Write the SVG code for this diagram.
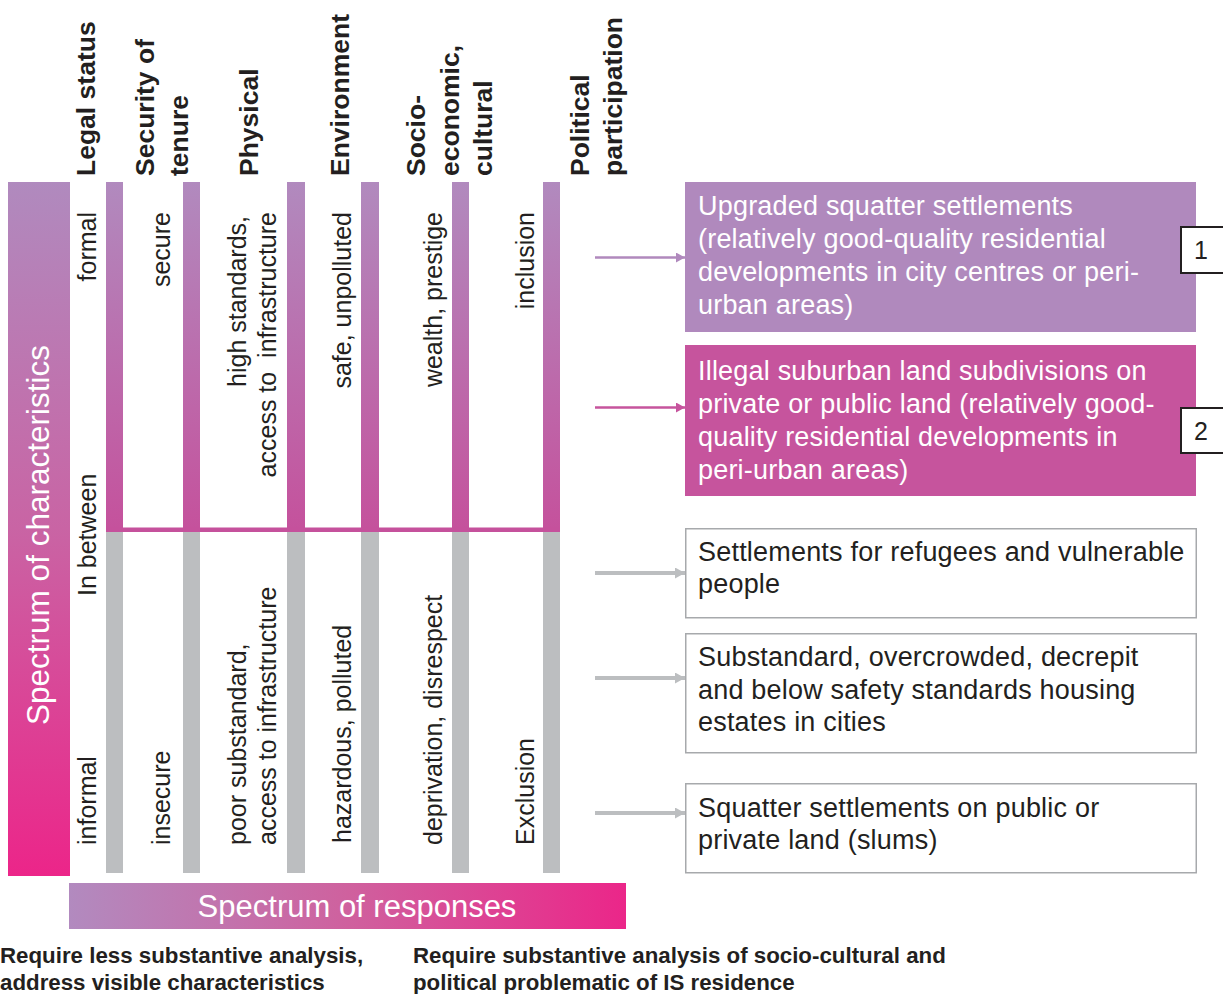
<svg xmlns="http://www.w3.org/2000/svg" width="1223" height="994" viewBox="0 0 1223 994">
<defs>
<linearGradient id="gLeft" x1="0" y1="182" x2="0" y2="876" gradientUnits="userSpaceOnUse">
<stop offset="0" stop-color="#b08abe"/>
<stop offset="0.5" stop-color="#c964a4"/>
<stop offset="1" stop-color="#ec2589"/>
</linearGradient>
<linearGradient id="gBar" x1="0" y1="182" x2="0" y2="532" gradientUnits="userSpaceOnUse">
<stop offset="0" stop-color="#b18abe"/>
<stop offset="1" stop-color="#c5519c"/>
</linearGradient>
<linearGradient id="gBottom" x1="69" y1="0" x2="626" y2="0" gradientUnits="userSpaceOnUse">
<stop offset="0" stop-color="#b28abf"/>
<stop offset="0.5" stop-color="#cf619e"/>
<stop offset="1" stop-color="#eb2689"/>
</linearGradient>
<marker id="mPurple" viewBox="0 0 9 10" refX="9" refY="5" markerWidth="9" markerHeight="10" markerUnits="userSpaceOnUse" orient="auto"><path d="M0,0 L9,5 L0,10 z" fill="#b089bd"/></marker>
<marker id="mMagenta" viewBox="0 0 9 10" refX="9" refY="5" markerWidth="9" markerHeight="10" markerUnits="userSpaceOnUse" orient="auto"><path d="M0,0 L9,5 L0,10 z" fill="#c6549d"/></marker>
<marker id="mGrey" viewBox="0 0 10 11" refX="10" refY="5.5" markerWidth="10" markerHeight="11" markerUnits="userSpaceOnUse" orient="auto"><path d="M0,0 L10,5.5 L0,11 z" fill="#bcbec0"/></marker>
<style>
.hdr{font-family:"Liberation Sans",Arial,sans-serif;font-weight:bold;font-size:26.5px;fill:#231f20}
.col{font-family:"Liberation Sans",Arial,sans-serif;font-size:25px;fill:#231f20}
.box{font-family:"Liberation Sans",Arial,sans-serif;font-size:27px;letter-spacing:0.2px}
.wt{fill:#ffffff}
.dk{fill:#231f20}
.num{font-family:"Liberation Sans",Arial,sans-serif;font-size:25px;fill:#231f20;text-anchor:middle}
.foot{font-family:"Liberation Sans",Arial,sans-serif;font-weight:bold;font-size:22.3px;fill:#231f20}
.pbar{fill:url(#gBar)}
.gbar{fill:#bcbec0}
.gbox{fill:#ffffff;stroke:#a7a9ac;stroke-width:1.5}
.nbox{fill:#ffffff;stroke:#231f20;stroke-width:2}
</style>
</defs>
<rect width="1223" height="994" fill="#ffffff"/>

<g id="headers">
<text class="hdr" transform="translate(95,176) rotate(-90)">Legal status</text>
<text class="hdr" transform="translate(154,176) rotate(-90)">Security of</text>
<text class="hdr" transform="translate(188,176) rotate(-90)">tenure</text>
<text class="hdr" transform="translate(258,176) rotate(-90)">Physical</text>
<text class="hdr" transform="translate(349,176) rotate(-90)">Environment</text>
<text class="hdr" transform="translate(425,176) rotate(-90)">Socio-</text>
<text class="hdr" transform="translate(459,176) rotate(-90)">economic,</text>
<text class="hdr" transform="translate(492,176) rotate(-90)">cultural</text>
<text class="hdr" transform="translate(589,176) rotate(-90)">Political</text>
<text class="hdr" transform="translate(622,176) rotate(-90)">participation</text>
</g>

<g id="spectrum-characteristics">
<rect x="8" y="182" width="62" height="694" fill="url(#gLeft)"/>
<text transform="translate(49,535) rotate(-90)" text-anchor="middle" font-family="Liberation Sans, Arial, sans-serif" font-size="31.5" fill="#ffffff">Spectrum of characteristics</text>
</g>

<g id="columns">
<rect class="pbar" x="106" y="182" width="17" height="350"/>
<rect class="pbar" x="183" y="182" width="17" height="350"/>
<rect class="pbar" x="287" y="182" width="18" height="350"/>
<rect class="pbar" x="361" y="182" width="18" height="350"/>
<rect class="pbar" x="452" y="182" width="17" height="350"/>
<rect class="pbar" x="543" y="182" width="17" height="350"/>
<rect x="106" y="527.5" width="454" height="4.5" fill="#c5519c"/>
<rect class="gbar" x="106" y="532" width="17" height="341"/>
<rect class="gbar" x="183" y="532" width="17" height="341"/>
<rect class="gbar" x="287" y="532" width="18" height="341"/>
<rect class="gbar" x="361" y="532" width="18" height="341"/>
<rect class="gbar" x="452" y="532" width="17" height="341"/>
<rect class="gbar" x="543" y="532" width="17" height="341"/>
</g>

<g id="column-labels-top">
<text class="col" text-anchor="end" transform="translate(96,212) rotate(-90)">formal</text>
<text class="col" text-anchor="end" transform="translate(170,212) rotate(-90)">secure</text>
<text class="col" text-anchor="end" transform="translate(246,216) rotate(-90)">high standards,</text>
<text class="col" text-anchor="end" transform="translate(276,212) rotate(-90)" xml:space="preserve">access to  infrastructure</text>
<text class="col" text-anchor="end" transform="translate(351,212) rotate(-90)">safe, unpolluted</text>
<text class="col" text-anchor="end" transform="translate(442,212) rotate(-90)">wealth, prestige</text>
<text class="col" text-anchor="end" transform="translate(534,212) rotate(-90)">inclusion</text>
</g>

<g id="column-labels-bottom">
<text class="col" transform="translate(96,596) rotate(-90)">In between</text>
<text class="col" transform="translate(96,845) rotate(-90)">informal</text>
<text class="col" transform="translate(170,845) rotate(-90)">insecure</text>
<text class="col" transform="translate(246,845) rotate(-90)">poor substandard,</text>
<text class="col" transform="translate(276,845) rotate(-90)">access to infrastructure</text>
<text class="col" transform="translate(351,843) rotate(-90)">hazardous, polluted</text>
<text class="col" transform="translate(442,845) rotate(-90)">deprivation, disrespect</text>
<text class="col" transform="translate(534,845) rotate(-90)">Exclusion</text>
</g>

<g id="connectors">
<line x1="595" y1="257.5" x2="685" y2="257.5" stroke="#b089bd" stroke-width="2.5" marker-end="url(#mPurple)"/>
<line x1="595" y1="407.5" x2="685" y2="407.5" stroke="#c6549d" stroke-width="2.5" marker-end="url(#mMagenta)"/>
<line x1="595" y1="573" x2="685" y2="573" stroke="#bcbec0" stroke-width="4" marker-end="url(#mGrey)"/>
<line x1="595" y1="678" x2="685" y2="678" stroke="#bcbec0" stroke-width="4" marker-end="url(#mGrey)"/>
<line x1="595" y1="813" x2="685" y2="813" stroke="#bcbec0" stroke-width="4" marker-end="url(#mGrey)"/>
</g>

<g id="box1">
<rect x="685" y="182" width="511" height="150" fill="#b089bd"/>
<text class="box wt" x="698" y="215">Upgraded squatter settlements</text>
<text class="box wt" x="698" y="248">(relatively good-quality residential</text>
<text class="box wt" x="698" y="281">developments in city centres or peri-</text>
<text class="box wt" x="698" y="314">urban areas)</text>
</g>

<g id="box2">
<rect x="685" y="345" width="511" height="151" fill="#c6549d"/>
<text class="box wt" x="698" y="380">Illegal suburban land subdivisions on</text>
<text class="box wt" x="698" y="413">private or public land (relatively good-</text>
<text class="box wt" x="698" y="446">quality residential developments in</text>
<text class="box wt" x="698" y="479">peri-urban areas)</text>
</g>

<g id="label1">
<rect class="nbox" x="1181" y="227" width="50" height="46"/>
<text class="num" x="1201" y="259">1</text>
</g>

<g id="label2">
<rect class="nbox" x="1181" y="408" width="50" height="45"/>
<text class="num" x="1201" y="440">2</text>
</g>

<g id="box3">
<rect class="gbox" x="685.75" y="528.75" width="510.5" height="89"/>
<text class="box dk" x="698" y="561">Settlements for refugees and vulnerable</text>
<text class="box dk" x="698" y="593">people</text>
</g>

<g id="box4">
<rect class="gbox" x="685.75" y="633.75" width="510.5" height="119"/>
<text class="box dk" x="698" y="666">Substandard, overcrowded, decrepit</text>
<text class="box dk" x="698" y="699">and below safety standards housing</text>
<text class="box dk" x="698" y="731">estates in cities</text>
</g>

<g id="box5">
<rect class="gbox" x="685.75" y="783.75" width="510.5" height="89"/>
<text class="box dk" x="698" y="817">Squatter settlements on public or</text>
<text class="box dk" x="698" y="849">private land (slums)</text>
</g>

<g id="spectrum-responses">
<rect x="69" y="883" width="557" height="46" fill="url(#gBottom)"/>
<text x="357" y="917" text-anchor="middle" font-family="Liberation Sans, Arial, sans-serif" font-size="31" fill="#ffffff">Spectrum of responses</text>
</g>

<g id="footnotes">
<text class="foot" x="0" y="963">Require less substantive analysis,</text>
<text class="foot" x="0" y="990">address visible characteristics</text>
<text class="foot" x="413" y="963">Require substantive analysis of socio-cultural and</text>
<text class="foot" x="413" y="990">political problematic of IS residence</text>
</g>
</svg>
